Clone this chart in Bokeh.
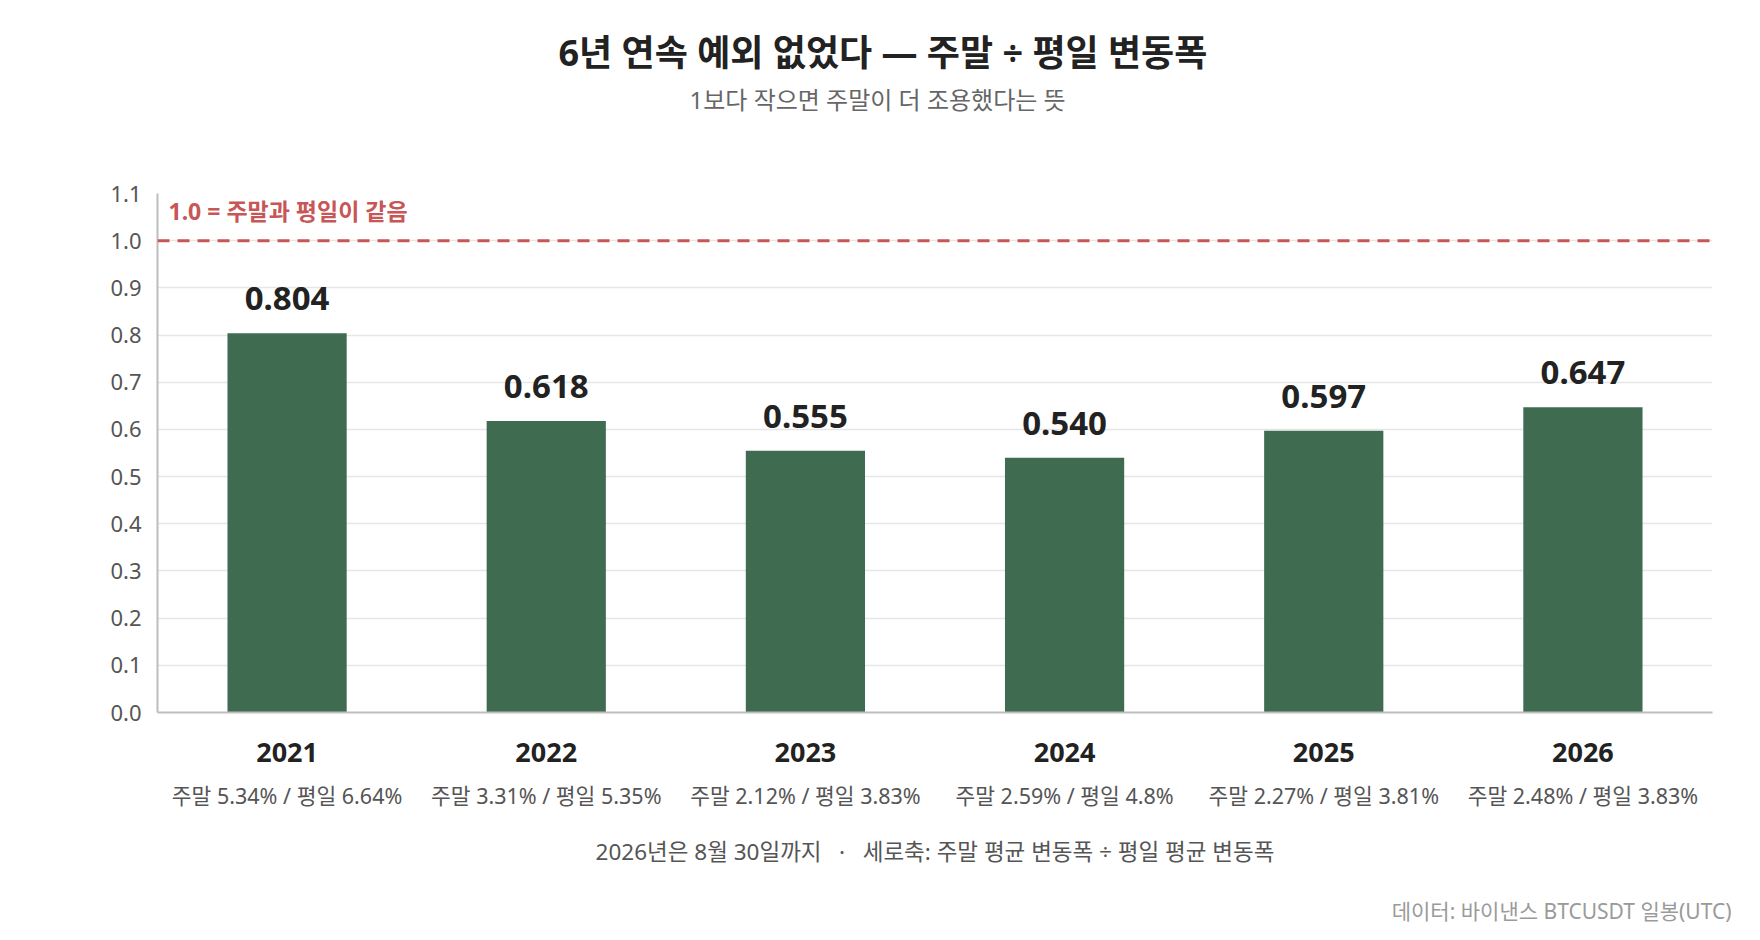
from bokeh.plotting import figure
from bokeh.models import (ColumnDataSource, FactorRange, Range1d, FixedTicker,
                          PrintfTickFormatter, Span, Label, LabelSet, Title,
                          CategoricalAxis)
from bokeh.core.properties import value
from bokeh.embed import file_html
from bokeh.resources import INLINE

# ---- data ----
years = ["2021", "2022", "2023", "2024", "2025", "2026"]
ratio = [0.804, 0.618, 0.555, 0.540, 0.597, 0.647]
weekend_pct = ["5.34%", "3.31%", "2.12%", "2.59%", "2.27%", "2.48%"]
weekday_pct = ["6.64%", "5.35%", "3.83%", "4.8%", "3.81%", "3.83%"]
y_ticks = [0.0, 0.1, 0.2, 0.3, 0.4, 0.5, 0.6, 0.7, 0.8, 0.9, 1.0, 1.1]
ref_value = 1.0

title_text = "6년 연속 예외 없었다 — 주말 ÷ 평일 변동폭"
subtitle_text = "1보다 작으면 주말이 더 조용했다는 뜻"
ref_text = "1.0 = 주말과 평일이 같음"
note_text = "2026년은 8월 30일까지\u00a0\u00a0 · \u00a0\u00a0세로축: 주말 평균 변동폭 ÷ 평일 평균 변동폭"
source_text = "데이터: 바이낸스 BTCUSDT 일봉(UTC)"

FONT = "'Noto Sans', 'Noto Sans CJK KR'"
BAR = "#3f6c51"
RED = "#c75656"

labels = ["{:.3f}".format(v) for v in ratio]
sub = ["주말 {} / 평일 {}".format(a, b) for a, b in zip(weekend_pct, weekday_pct)]
src = ColumnDataSource(dict(year=years, ratio=ratio, label=labels))

p = figure(width=1760, height=940, x_range=FactorRange(factors=years),
           y_range=Range1d(0, 1.1), output_backend="svg", toolbar_location=None,
           min_border_left=157, min_border_right=48, min_border_top=193,
           min_border_bottom=228)
p.outline_line_color = None
p.background_fill_color = "white"
p.border_fill_color = "white"

p.vbar(x="year", top="ratio", width=0.46, source=src, fill_color=BAR,
       line_color=None)

# grid
p.xgrid.grid_line_color = None
p.ygrid.grid_line_color = "#e6e6e6"
p.ygrid.grid_line_width = 1.5

# y axis
p.yaxis.ticker = FixedTicker(ticks=y_ticks)
p.yaxis.formatter = PrintfTickFormatter(format="%.1f")
p.yaxis.axis_line_color = "#bdbdbd"
p.yaxis.axis_line_width = 2
p.yaxis.major_tick_line_color = None
p.yaxis.minor_tick_line_color = None
p.yaxis.major_tick_out = 0
p.yaxis.major_tick_in = 0
p.yaxis.major_label_standoff = 16
p.yaxis.major_label_text_font = FONT
p.yaxis.major_label_text_font_size = "22px"
p.yaxis.major_label_text_color = "#555555"

# x axis (years)
p.xaxis.axis_line_color = "#bdbdbd"
p.xaxis.axis_line_width = 2
p.xaxis.major_tick_line_color = None
p.xaxis.minor_tick_line_color = None
p.xaxis.major_tick_out = 0
p.xaxis.major_tick_in = 0
p.xaxis.major_label_standoff = 30
p.xaxis.major_label_text_font = FONT
p.xaxis.major_label_text_font_size = "27px"
p.xaxis.major_label_text_font_style = "bold"
p.xaxis.major_label_text_color = "#222222"

# second row of category labels (weekend / weekday averages)
p.extra_x_ranges = {"sub": FactorRange(factors=sub)}
sub_axis = CategoricalAxis(x_range_name="sub")
sub_axis.axis_line_color = None
sub_axis.major_tick_line_color = None
sub_axis.minor_tick_line_color = None
sub_axis.major_tick_out = 0
sub_axis.major_tick_in = 0
sub_axis.major_label_standoff = 16
sub_axis.major_label_text_font = FONT
sub_axis.major_label_text_font_size = "21.5px"
sub_axis.major_label_text_color = "#555555"
p.add_layout(sub_axis, "below")

# reference line
p.add_layout(Span(location=ref_value, dimension="width", line_color=RED,
                  line_width=3, line_dash="12 8"))
p.add_layout(Label(x=11, y=ref_value, x_units="screen", y_units="data",
                   y_offset=30, text=ref_text, text_font=FONT,
                   text_font_size="23px", text_font_style="bold",
                   text_color=RED, text_align="left",
                   text_baseline="alphabetic"))

# value labels
p.add_layout(LabelSet(x="year", y="ratio", text="label", source=src,
                      y_offset=23, text_font=value(FONT),
                      text_font_size="33px", text_font_style="bold",
                      text_color="#222222", text_align="center",
                      text_baseline="alphabetic"))

# titles (first added sits closest to the plot)
p.add_layout(Title(text="\u00a0", text_font_size="10px", standoff=63), "above")
p.add_layout(Title(text=subtitle_text, align="left", offset=532,
                   text_font=FONT, text_font_size="24px",
                   text_font_style="normal", text_color="#666666",
                   standoff=4), "above")
p.add_layout(Title(text=title_text, align="left", offset=401,
                   text_font=FONT, text_font_size="36px",
                   text_font_style="bold", text_color="#222222",
                   standoff=4), "above")

# notes below
p.add_layout(Title(text=note_text, align="center",
                   text_font=FONT, text_font_size="22.5px",
                   text_font_style="normal", text_color="#555555",
                   standoff=42), "below")
p.add_layout(Title(text=source_text, align="right", offset=-19,
                   text_font=FONT, text_font_size="21px",
                   text_font_style="normal", text_color="#9a9a9a",
                   standoff=14), "below")

open("out.html", "w").write(file_html(p, INLINE))
